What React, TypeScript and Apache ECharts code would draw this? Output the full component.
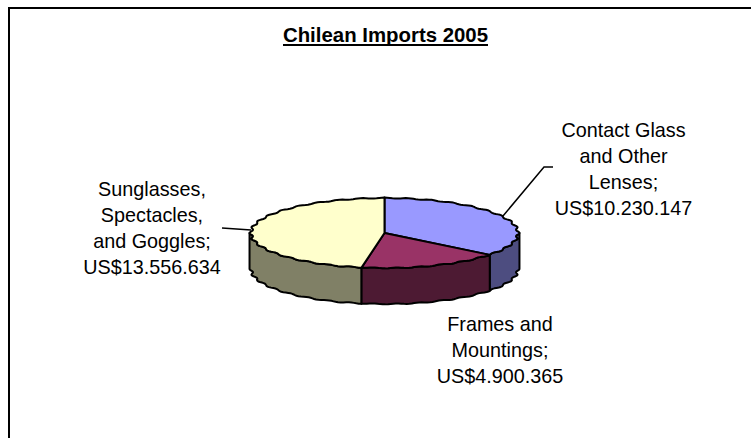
import React, { useEffect, useRef } from "react";
import * as echarts from "echarts";

const titleText = "Chilean Imports 2005";
const categories = ["Contact Glass\nand Other\nLenses;", "Frames and\nMountings;", "Sunglasses,\nSpectacles,\nand Goggles;"];
const amounts = [10230147, 4900365, 13556634];
const topColors = ["#9999FF", "#993366", "#FFFFCC"];
const sideColors = ["#4D4D80", "#4D1A33", "#808066"];

const FONT = '"Liberation Sans", Arial, sans-serif';
const cx = 384.5, cy = 233, rx = 133.5, ry = 35, depth = 36;
const labelAnchors = [[623.5, 116.5], [500, 310.5], [152, 176]];
const leaders = [
  [[503, 216], [544, 167], [553, 167]],
  [],
  [[222, 228], [251, 230]],
];

const total = amounts.reduce((a, b) => a + b, 0);
const fmt = (n: number) => "US$" + String(n).replace(/\B(?=(\d{3})+$)/g, ".");

function pt(theta: number, dy = 0): number[] {
  const w = 1 + 0.011 * Math.cos(theta * 36);
  return [cx + rx * w * Math.sin(theta), cy - ry * w * Math.cos(theta) + dy];
}
function arc(a: number, b: number, dy = 0): number[][] {
  const n = Math.max(2, Math.ceil(Math.abs(b - a) / 0.02));
  const out: number[][] = [];
  for (let i = 0; i <= n; i++) out.push(pt(a + ((b - a) * i) / n, dy));
  return out;
}

function renderItem(params: any, api: any) {
  const i = params.dataIndex;
  let before = 0;
  for (let k = 0; k < i; k++) before += amounts[k];
  const a0 = (before / total) * 2 * Math.PI;
  const a1 = ((before + api.value(0)) / total) * 2 * Math.PI;
  const stroke = { stroke: "#000", lineWidth: 2, lineJoin: "round" };
  const children: any[] = [];
  const s0 = Math.max(a0, Math.PI / 2), s1 = Math.min(a1, (3 * Math.PI) / 2);
  if (s1 > s0) {
    children.push({
      type: "polygon",
      shape: { points: [...arc(s0, s1), ...arc(s1, s0, depth)] },
      style: { fill: sideColors[i], ...stroke },
    });
  }
  children.push({
    type: "polygon",
    shape: { points: [[cx, cy], ...arc(a0, a1)] },
    style: { fill: topColors[i], ...stroke },
  });
  if (leaders[i].length) {
    children.push({
      type: "polyline",
      shape: { points: leaders[i] },
      style: { fill: "none", stroke: "#000", lineWidth: 1.5 },
    });
  }
  children.push({
    type: "text",
    style: {
      text: categories[i] + "\n" + fmt(api.value(0)),
      x: labelAnchors[i][0],
      y: labelAnchors[i][1],
      align: "center",
      verticalAlign: "top",
      font: `19.8px ${FONT}`,
      lineHeight: 26,
      fill: "#000",
    },
  });
  return { type: "group", children };
}

export default function App() {
  const ref = useRef<HTMLDivElement>(null);
  useEffect(() => {
    const chart = echarts.init(ref.current!, undefined, { renderer: "svg" });
    chart.setOption({
      animation: false,
      backgroundColor: "#fff",
      title: {
        text: titleText,
        left: 385.5,
        top: 24.5,
        padding: 0,
        textAlign: "center",
        textStyle: { fontFamily: FONT, fontSize: 20.4, fontWeight: "bold", color: "#000" },
      },
      graphic: [
        { type: "line", shape: { x1: 9, y1: 8, x2: 751, y2: 8 }, style: { stroke: "#000", lineWidth: 2 } },
        { type: "line", shape: { x1: 9, y1: 7, x2: 9, y2: 438 }, style: { stroke: "#000", lineWidth: 2 } },
        { type: "line", shape: { x1: 283, y1: 45, x2: 488, y2: 45 }, style: { stroke: "#000", lineWidth: 2 } },
      ],
      xAxis: { show: false },
      yAxis: { show: false },
      series: [
        {
          type: "custom",
          coordinateSystem: "none",
          renderItem,
          data: amounts.map((v, i) => ({ value: [v], name: categories[i] })),
          silent: true,
          clip: false,
        },
      ],
    });
    return () => chart.dispose();
  }, []);
  return <div ref={ref} style={{ position: "absolute", left: 0, top: 0, width: 751, height: 438 }} />;
}
